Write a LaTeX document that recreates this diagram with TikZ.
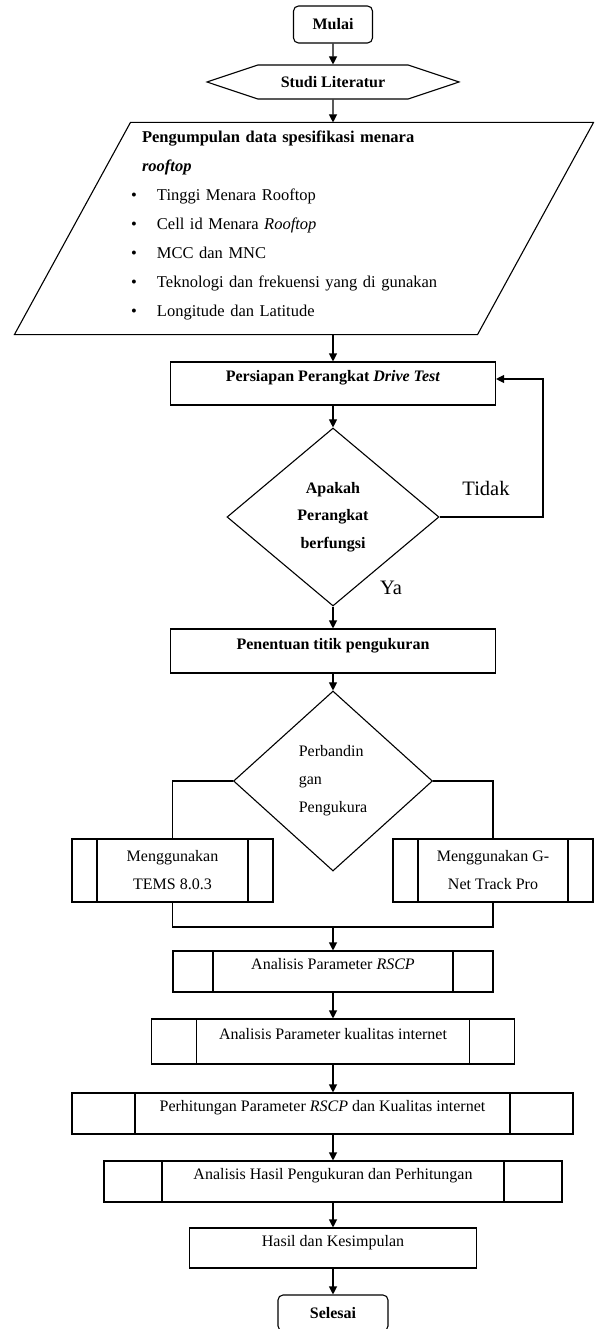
\documentclass[tikz,border=0pt]{standalone}
\usepackage{fontspec}
\setmainfont{Liberation Serif}
\usetikzlibrary{positioning,arrows.meta,shapes.geometric,shapes.symbols}

\begin{document}
\begin{tikzpicture}[
    x=1pt, y=-1pt,
    line width=1.1pt,
    every node/.style={font=\fontsize{16}{28}\selectfont},
    process/.style={draw, inner sep=0pt, align=center},
    raised/.style={text height=11pt, text depth=15pt},
    subprocess/.style={process, path picture={
        \draw ([xshift=#1]path picture bounding box.north west)
            -- ([xshift=#1]path picture bounding box.south west);
        \draw ([xshift=-#1]path picture bounding box.north east)
            -- ([xshift=-#1]path picture bounding box.south east);}},
    terminal/.style={draw, rounded corners=5pt, inner sep=0pt,
                     font=\fontsize{16}{28}\selectfont\bfseries},
    prep/.style={draw, signal, signal to=east and west, signal pointer angle=37,
                 inner sep=0pt, minimum width=252pt, minimum height=34pt},
    io/.style={inner sep=0pt, minimum width=462pt, minimum height=211pt,
               text width=346pt, align=left, text depth=183pt,
               font=\fontsize{16.5}{29}\selectfont},
    decision/.style={draw, diamond, inner sep=0pt, align=center},
    arrow/.style={-{Triangle[length=8pt,width=8pt]}},
    answer/.style={font=\fontsize{20.5}{24}\selectfont},
]
\useasboundingbox (0,0) rectangle (594,1329);
\clip (0,0) rectangle (594,1329);

% Start and preparation
\node[terminal, minimum width=79pt, minimum height=37pt] (mulai) at (333,24.5) {Mulai};
\node[prep] (studi) at (333,82) {\textbf{Studi Literatur}};
\node[io] (data) at (304,228.5)
    {\hspace*{11pt}\textbf{Pengumpulan data spesifikasi menara}\\
     \hspace*{11pt}\textbf{\textit{rooftop}}\\
     \makebox[26pt][l]{\textbullet}Tinggi Menara Rooftop\\
     \makebox[26pt][l]{\textbullet}Cell id Menara \textit{Rooftop}\\
     \makebox[26pt][l]{\textbullet}MCC dan MNC\\
     \makebox[26pt][l]{\textbullet}Teknologi dan frekuensi yang di gunakan\\
     \makebox[26pt][l]{\textbullet}Longitude dan Latitude};
\draw ([xshift=58pt]data.north west) -- ([xshift=58pt]data.north east)
    -- ([xshift=-58pt]data.south east) -- ([xshift=-58pt]data.south west) -- cycle;
\node[process, raised, minimum width=325pt, minimum height=43pt] (siap) at (333,383.5)
    {\textbf{Persiapan Perangkat \textit{Drive Test}}};
\node[decision, minimum width=212pt, minimum height=178pt,
      font=\fontsize{16}{27.5}\selectfont\bfseries] (cek) at (333,517)
    {Apakah\\Perangkat\\berfungsi};
\node[answer] (tidak) at (486,488) {Tidak};
\node[answer] (ya) at (391,588) {Ya};
\coordinate (balik) at (543,379);

% Measurement
\node[process, raised, minimum width=325pt, minimum height=44pt] (titik) at (333,651)
    {\textbf{Penentuan titik pengukuran}};
\node[decision, minimum width=199pt, minimum height=180pt, align=left] (banding) at (333,781)
    {Perbandin\\gan\\Pengukura};
\node[subprocess=25pt, minimum width=201pt, minimum height=63pt] (tems) at (172.5,870.5)
    {Menggunakan\\TEMS 8.0.3};
\node[subprocess=25pt, minimum width=200pt, minimum height=63pt] (gnet) at (493,870.5)
    {Menggunakan G-\\Net Track Pro};
\coordinate (gabung) at (333,927);

% Analysis
\node[subprocess=40pt, raised, minimum width=320pt, minimum height=41pt] (rscp) at (333,971.5)
    {Analisis Parameter \textit{RSCP}};
\node[subprocess=45pt, raised, minimum width=363pt, minimum height=45pt] (kualitas) at (333,1041.5)
    {Analisis Parameter kualitas internet};
\node[subprocess=63pt, raised, minimum width=501pt, minimum height=41pt] (hitung) at (322.5,1113.5)
    {Perhitungan Parameter \textit{RSCP} dan Kualitas internet};
\node[subprocess=58pt, raised, minimum width=458pt, minimum height=41pt] (analisis) at (333,1181.5)
    {Analisis Hasil Pengukuran dan Perhitungan};
\node[process, raised, minimum width=287pt, minimum height=40pt] (hasil) at (333,1248)
    {Hasil dan Kesimpulan};
\node[terminal, minimum width=110pt, minimum height=36pt] (selesai) at (333,1313) {Selesai};

% Connectors
\draw[arrow] (mulai) -- (studi);
\draw[arrow] (studi) -- (studi |- data.north);
\draw[arrow] (studi |- data.south) -- (siap);
\draw[arrow] (siap) -- (cek);
\draw[arrow] (cek.east) -| (balik) -- (balik -| siap.east);
\draw[arrow] (cek) -- (titik);
\draw[arrow] (titik) -- (banding);
\draw (banding.west) -| (tems.north);
\draw (banding.east) -| (gnet.north);
\draw (tems.south) |- (gabung) -| (gnet.south);
\draw[arrow] (gabung) -- (rscp);
\draw[arrow] (rscp) -- (kualitas);
\draw[arrow] (kualitas) -- (kualitas |- hitung.north);
\draw[arrow] (hitung.south -| analisis) -- (analisis);
\draw[arrow] (analisis) -- (hasil);
\draw[arrow] (hasil) -- (selesai);
\end{tikzpicture}
\end{document}
